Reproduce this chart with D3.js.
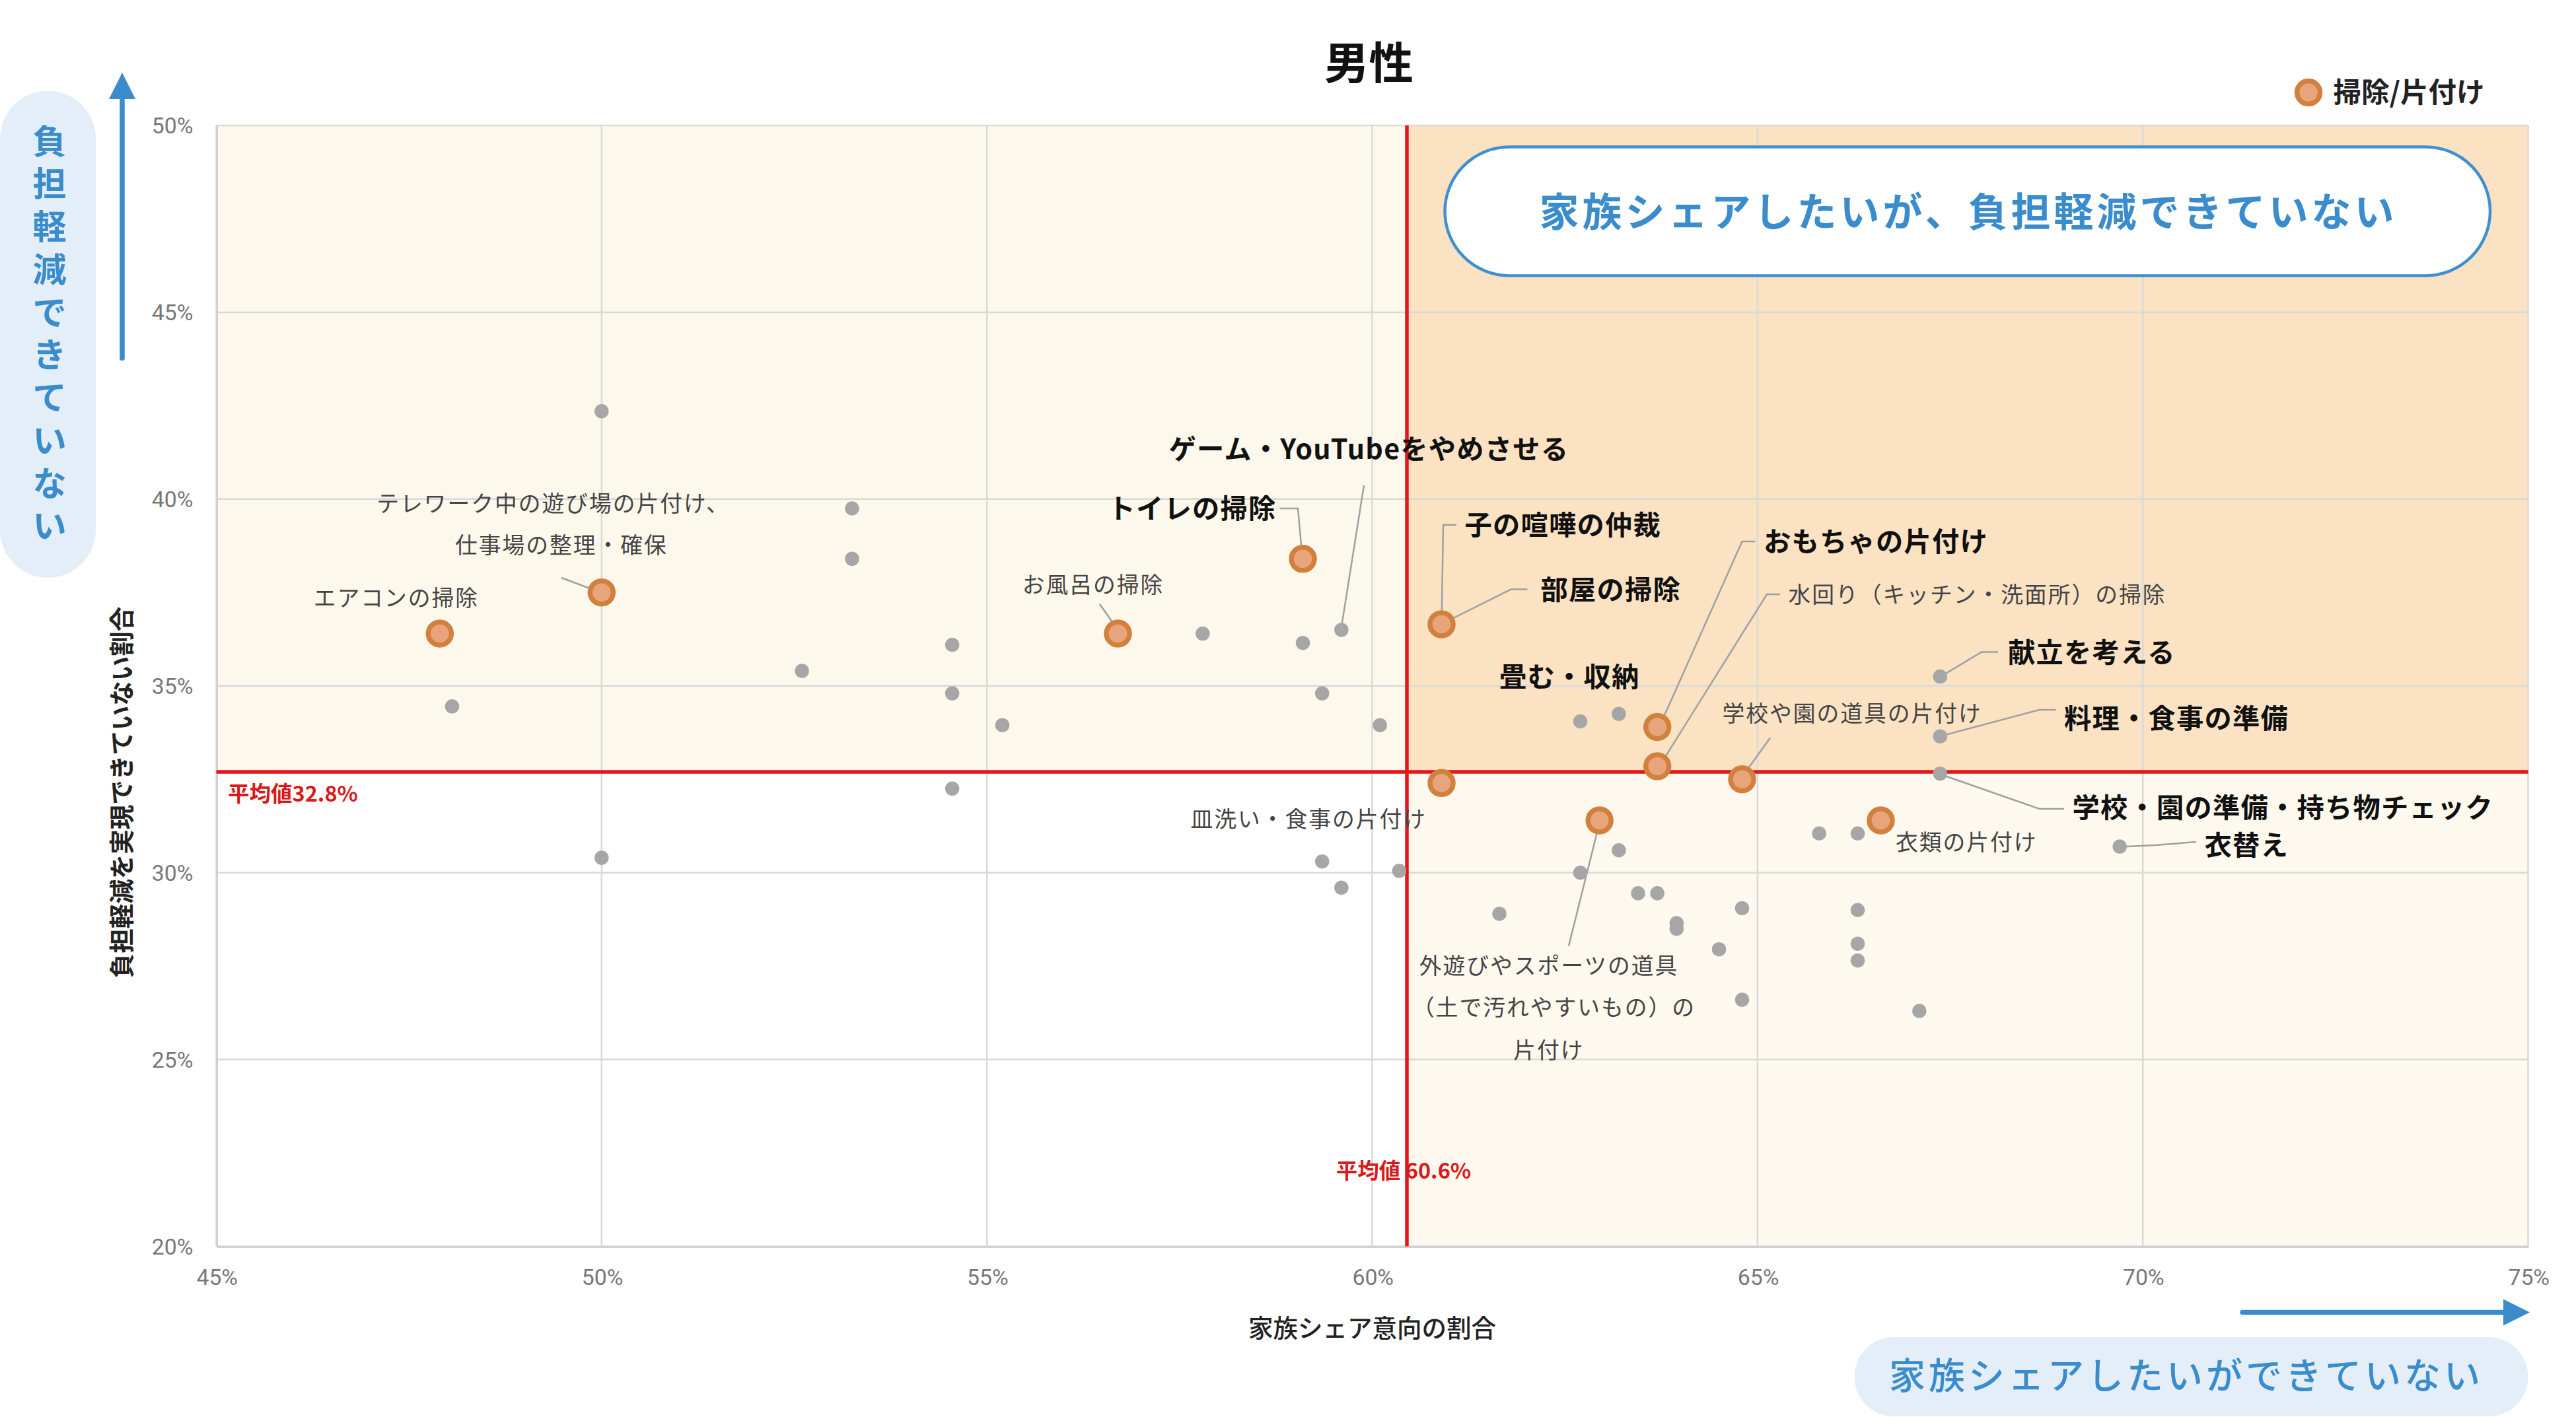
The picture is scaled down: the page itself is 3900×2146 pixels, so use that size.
<!DOCTYPE html>
<html>
<head>
<meta charset="utf-8">
<script src="https://d3js.org/d3.v7.min.js"></script>
<style>
  body { margin: 0; background: #fff; }
  svg { display: block; font-family: "Noto Sans CJK JP", "Noto Sans", sans-serif; }
</style>
</head>
<body>
<svg id="chart" width="3900" height="2146" viewBox="0 0 1560 858.4"></svg>
<script>
// gray items: [share %, not-reduced %]
var grayX = [50.0, 53.25, 53.25, 48.06, 52.6, 54.55, 54.55, 55.2, 54.55, 50.0, 57.8, 59.1, 59.6, 59.35, 60.1,
             59.35, 59.6, 60.35, 61.65, 62.7, 62.7, 63.2, 63.2, 63.45, 63.7, 63.95, 63.95, 64.5, 64.8, 64.8,
             65.8, 66.3, 66.3, 66.3, 66.3, 67.1, 67.37, 67.37, 67.37, 69.7];
var grayY = [42.35, 39.75, 38.4, 34.45, 35.4, 36.1, 34.8, 33.95, 32.25, 30.4, 36.4, 36.15, 36.5, 34.8, 33.95,
             30.3, 29.6, 30.05, 28.9, 30.0, 34.05, 34.25, 30.6, 29.45, 29.45, 28.65, 28.5, 27.95, 29.05, 26.6,
             31.05, 31.05, 29.0, 28.1, 27.65, 26.3, 35.25, 33.65, 32.65, 30.7];
// cleaning / tidying items
var cleanX = [47.9, 50.0, 56.7, 59.1, 60.9, 60.9, 62.95, 63.7, 63.7, 64.8, 66.6];
var cleanY = [36.4, 37.5, 36.4, 38.4, 36.65, 32.4, 31.4, 33.9, 32.85, 32.5, 31.4];
var meanX = 60.45, meanY = 32.7;
var meanXLabel = "平均値 60.6%", meanYLabel = "平均値32.8%";
var xTicks = [45, 50, 55, 60, 65, 70, 75];
var yTicks = [20, 25, 30, 35, 40, 45, 50];

var svg = d3.select("#chart");
var L = 131, R = 1531, T = 76, B = 755;
var x = d3.scaleLinear().domain([45, 75]).range([L, R]);
var y = d3.scaleLinear().domain([20, 50]).range([B, T]);

// quadrant backgrounds
svg.append("rect").attr("x", L).attr("y", T).attr("width", x(meanX) - L).attr("height", y(meanY) - T).attr("fill", "#fdf8ec");
svg.append("rect").attr("x", x(meanX)).attr("y", T).attr("width", R - x(meanX)).attr("height", y(meanY) - T).attr("fill", "#fae2c3");
svg.append("rect").attr("x", x(meanX)).attr("y", y(meanY)).attr("width", R - x(meanX)).attr("height", B - y(meanY)).attr("fill", "#fef9ee");

// grid
svg.append("g").selectAll("line").data(xTicks).join("line")
  .attr("x1", d => x(d)).attr("x2", d => x(d)).attr("y1", T).attr("y2", B)
  .attr("stroke", "#d9d9d9").attr("stroke-width", 1);
svg.append("g").selectAll("line").data(yTicks).join("line")
  .attr("x1", L).attr("x2", R).attr("y1", d => y(d)).attr("y2", d => y(d))
  .attr("stroke", "#d9d9d9").attr("stroke-width", 1);

// axes
var xa = svg.append("g").attr("transform", "translate(0," + B + ")")
  .call(d3.axisBottom(x).tickValues(xTicks).tickFormat(d => d + "%").tickSize(0).tickPadding(14));
var ya = svg.append("g").attr("transform", "translate(" + L + ",0)")
  .call(d3.axisLeft(y).tickValues(yTicks).tickFormat(d => d + "%").tickSize(0).tickPadding(14));
[xa, ya].forEach(a => {
  a.select(".domain").attr("stroke", "#d0d0d0");
  a.selectAll("text").attr("fill", "#777").style("font-size", "13.5px").style("font-family", "Roboto, sans-serif");
});

// mean lines
svg.append("line").attr("x1", x(meanX)).attr("x2", x(meanX)).attr("y1", T).attr("y2", B).attr("stroke", "#e8141c").attr("stroke-width", 2.2);
svg.append("line").attr("x1", L).attr("x2", R).attr("y1", y(meanY)).attr("y2", y(meanY)).attr("stroke", "#e8141c").attr("stroke-width", 2.2);
svg.append("text").attr("x", L + 7).attr("y", y(meanY) + 18).text(meanYLabel)
  .attr("fill", "#d81a1a").attr("font-weight", 700).style("font-size", "13px");
svg.append("text").attr("x", x(meanX) - 2).attr("y", 714).attr("text-anchor", "middle").text(meanXLabel)
  .attr("fill", "#d81a1a").attr("font-weight", 700).style("font-size", "13px");

// annotations: leader lines + labels
var leaders = [
  [[340, 350], [364, 359]],
  [[666, 366], [678, 383]],
  [[775, 308], [786, 308], [788, 330]],
  [[826, 294], [812, 382]],
  [[882, 318], [874, 318], [873, 378]],
  [[925, 357], [915, 357], [873, 378]],
  [[1063, 328], [1055, 328], [1005, 440]],
  [[1078, 360], [1070, 360], [1005, 464]],
  [[1072, 447], [1054, 472]],
  [[1210, 395], [1200, 395], [1175, 410]],
  [[1245, 430], [1235, 430], [1175, 446]],
  [[1250, 490], [1235, 490], [1175, 469]],
  [[1330, 510], [1305, 512], [1284, 513]],
  [[950, 573], [969, 497]]
];
svg.append("g").selectAll("path").data(leaders).join("path")
  .attr("d", d => d3.line()(d)).attr("fill", "none").attr("stroke", "#a0a0a0").attr("stroke-width", 1);

var labels = [
  ["テレワーク中の遊び場の片付け、", 335, 310, "middle", 0],
  ["仕事場の整理・確保", 340, 335, "middle", 0],
  ["エアコンの掃除", 240, 367, "middle", 0],
  ["お風呂の掃除", 662, 359, "middle", 0],
  ["トイレの掃除", 773, 314, "end", 1],
  ["ゲーム・YouTubeをやめさせる", 829, 278, "middle", 1],
  ["子の喧嘩の仲裁", 887, 324, "start", 1],
  ["部屋の掃除", 933, 363, "start", 1],
  ["畳む・収納", 908, 416, "start", 1],
  ["おもちゃの片付け", 1068, 334, "start", 1],
  ["水回り（キッチン・洗面所）の掃除", 1083, 365, "start", 0],
  ["学校や園の道具の片付け", 1043, 437, "start", 0],
  ["献立を考える", 1216, 401, "start", 1],
  ["料理・食事の準備", 1250, 441, "start", 1],
  ["学校・園の準備・持ち物チェック", 1255, 495, "start", 1],
  ["衣替え", 1335, 518, "start", 1],
  ["衣類の片付け", 1148, 515, "start", 0],
  ["皿洗い・食事の片付け", 864, 501, "end", 0],
  ["外遊びやスポーツの道具", 938, 590, "middle", 0],
  ["（土で汚れやすいもの）の", 941, 615, "middle", 0],
  ["片付け", 938, 641, "middle", 0]
];
svg.append("g").selectAll("text").data(labels).join("text")
  .attr("x", d => d[1]).attr("y", d => d[2]).attr("text-anchor", d => d[3]).text(d => d[0])
  .attr("fill", d => d[4] ? "#111" : "#444").attr("font-weight", d => d[4] ? 700 : 400)
  .style("font-size", d => d[4] ? "16.5px" : "13.5px").style("letter-spacing", d => d[4] ? "0.5px" : "0.8px");

// points
svg.append("g").selectAll("circle").data(d3.zip(grayX, grayY)).join("circle")
  .attr("cx", d => x(d[0])).attr("cy", d => y(d[1])).attr("r", 4.3).attr("fill", "#a6a6a6");
svg.append("g").selectAll("circle").data(d3.zip(cleanX, cleanY)).join("circle")
  .attr("cx", d => x(d[0])).attr("cy", d => y(d[1])).attr("r", 7).attr("fill", "#e8a57c")
  .attr("stroke", "#d2803e").attr("stroke-width", 3);

// title and legend
svg.append("text").attr("x", 829).attr("y", 48).attr("text-anchor", "middle").text("男性")
  .attr("font-weight", 700).style("font-size", "27px").attr("fill", "#111");
svg.append("circle").attr("cx", 1398).attr("cy", 56).attr("r", 7).attr("fill", "#e8a57c").attr("stroke", "#d2803e").attr("stroke-width", 3);
svg.append("text").attr("x", 1413).attr("y", 62).text("掃除/片付け").attr("font-weight", 700).style("font-size", "17px").attr("fill", "#222");

// callout box
svg.append("rect").attr("x", 875).attr("y", 89).attr("width", 633).attr("height", 78).attr("rx", 39)
  .attr("fill", "#fff").attr("stroke", "#3f8fd1").attr("stroke-width", 1.8);
svg.append("text").attr("x", 1192).attr("y", 137).attr("text-anchor", "middle").text("家族シェアしたいが、負担軽減できていない")
  .attr("fill", "#3a8ccc").attr("font-weight", 700).style("font-size", "24px").style("letter-spacing", "2px");

// left pill and arrow
svg.append("rect").attr("x", 0).attr("y", 55).attr("width", 58).attr("height", 295).attr("rx", 29).attr("fill", "#e3eef9");
svg.append("g").selectAll("text").data("負担軽減できていない".split("")).join("text")
  .attr("x", 30).attr("y", (d, i) => 93 + i * 25.9).attr("text-anchor", "middle").text(d => d)
  .attr("fill", "#3a8ccc").attr("font-weight", 700).style("font-size", "20.5px");
svg.append("line").attr("x1", 74).attr("x2", 74).attr("y1", 217).attr("y2", 55).attr("stroke", "#3a8ccc").attr("stroke-width", 3).attr("stroke-linecap", "round");
svg.append("path").attr("d", "M74,44 L66,60 L82,60 Z").attr("fill", "#3a8ccc");

// bottom-right pill and arrow
svg.append("line").attr("x1", 1358).attr("x2", 1520).attr("y1", 795).attr("y2", 795).attr("stroke", "#3a8ccc").attr("stroke-width", 3).attr("stroke-linecap", "round");
svg.append("path").attr("d", "M1532,795 L1516,787 L1516,803 Z").attr("fill", "#3a8ccc");
svg.append("rect").attr("x", 1123).attr("y", 810).attr("width", 408).attr("height", 48).attr("rx", 24).attr("fill", "#e3eef9");
svg.append("text").attr("x", 1324).attr("y", 841).attr("text-anchor", "middle").text("家族シェアしたいができていない")
  .attr("fill", "#3a8ccc").attr("font-weight", 500).style("font-size", "22px").style("letter-spacing", "2px");

// axis titles
svg.append("text").attr("transform", "translate(79,480) rotate(-90)").attr("text-anchor", "middle")
  .text("負担軽減を実現できていない割合").attr("font-weight", 700).style("font-size", "15px").attr("fill", "#222");
svg.append("text").attr("x", 831).attr("y", 810).attr("text-anchor", "middle")
  .text("家族シェア意向の割合").attr("font-weight", 500).style("font-size", "15px").attr("fill", "#222");
</script>
</body>
</html>
